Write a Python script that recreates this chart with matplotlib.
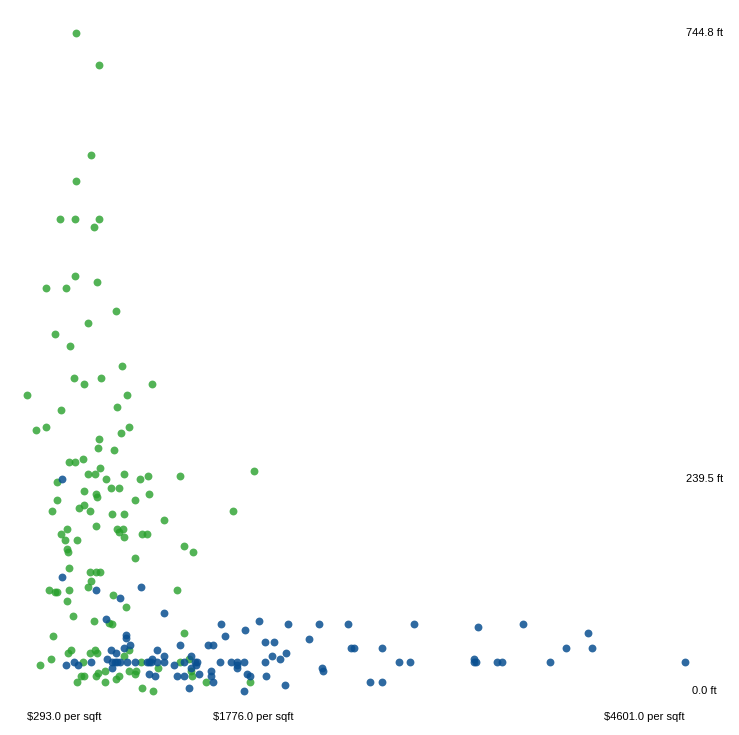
import matplotlib
matplotlib.use("Agg")
import matplotlib.pyplot as plt

# price per sqft ($) and elevation (ft) of homes
sf_price = [614, 763, 710, 614, 509, 607, 763, 732, 607, 417, 548, 751, 876, 693, 476,
            575, 915, 601, 778, 666, 1112, 293, 946, 514, 881, 352, 417, 959, 907, 763,
            756, 861, 658, 566, 605, 769, 1778, 691, 736, 926, 1084, 1293, 488, 808, 1031,
            894, 841, 664, 743, 750, 1090, 998, 488, 1640, 455, 632, 664, 704, 848, 926,
            1188, 743, 553, 881, 920, 894, 514, 1044, 1077, 540, 619, 926, 553, 560, 1319,
            1378, 998, 566, 704, 743, 769, 710, 691, 435, 474, 488, 566, 1274, 854, 553,
            941, 592, 732, 830, 848, 461, 1319, 579, 560, 736, 704, 752, 928, 959, 448,
            376, 658, 1038, 1293, 1356, 802, 756, 743, 894, 874, 959, 645, 664, 619, 802,
            1149, 1005, 998, 1372, 1044, 1116, 1365, 1464, 1752]
sf_elev = [744.8, 708.9, 607.0, 577.6, 534.6, 534.6, 534.6, 525.5, 470.1, 456.5, 456.5,
           463.3, 430.5, 416.9, 404.4, 390.8, 368.2, 354.6, 354.6, 347.8, 347.8, 335.4,
           335.4, 318.4, 321.8, 295.8, 299.2, 299.2, 292.4, 285.6, 275.4, 273.1, 262.9,
           259.5, 259.5, 252.8, 249.4, 246.0, 246.0, 246.0, 243.7, 243.7, 236.9, 240.3,
           240.3, 230.1, 230.1, 226.7, 223.3, 219.9, 223.3, 216.5, 216.5, 204.1, 204.1,
           207.5, 210.9, 204.1, 200.7, 200.7, 193.9, 187.1, 183.7, 183.7, 183.7, 180.3,
           178.0, 178.0, 178.0, 171.3, 171.3, 174.7, 161.1, 157.7, 164.5, 157.7, 150.9,
           138.9, 135.0, 135.0, 135.0, 124.8, 118.1, 114.7, 112.4, 112.4, 114.7, 114.7,
           109.0, 102.2, 95.4, 85.2, 79.6, 77.3, 76.2, 62.6, 66.0, 46.7, 43.4, 46.7, 43.4,
           43.4, 40.0, 46.7, 36.6, 29.8, 33.2, 33.2, 33.2, 36.6, 23.0, 20.7, 17.3, 17.3,
           13.9, 23.0, 17.3, 17.3, 10.5, 10.5, 26.4, 23.0, 19.6, 17.3, 3.7, 0.3, 23.0,
           10.5, 10.5]

ny_price = [520, 520, 743, 1038, 900, 1188, 810, 1562, 1811, 2001, 2204, 2394, 1719, 1588,
            2138, 940, 940, 1850, 1909, 1477, 1509, 1293, 966, 2413, 2433, 926, 841, 874,
            1143, 1987, 1896, 1948, 1365, 1188, 547, 599, 710, 625, 817, 848, 867, 881, 900,
            946, 998, 1077, 1090, 1103, 1110, 1143, 1188, 1254, 1319, 1391, 1405, 1398,
            1555, 1627, 1667, 1667, 1667, 1712, 1850, 848, 1365, 1496, 1090, 1129, 1274,
            1319, 1418, 1496, 1732, 1752, 1857, 2223, 2230, 1352, 1509, 1712, 1981, 2538,
            2616, 2826, 3245, 3540, 3966, 2616, 3821, 3992, 2728, 2800, 3219, 3219, 3232,
            3370, 3404, 3717, 4601]
ny_elev = [240.3, 128.7, 114.7, 118.1, 105.6, 88.6, 81.8, 76.2, 79.6, 76.2, 76.2, 76.2,
           69.4, 62.6, 59.2, 63.7, 60.3, 55.8, 55.8, 52.4, 52.4, 52.4, 52.4, 49.0, 49.0,
           49.0, 46.7, 43.4, 46.7, 43.4, 40.0, 36.6, 40.0, 40.0, 29.8, 33.2, 33.2, 29.8,
           36.6, 33.2, 33.2, 33.2, 33.2, 33.2, 33.2, 33.2, 33.2, 33.2, 36.6, 33.2, 33.2,
           29.8, 33.2, 33.2, 33.2, 29.8, 33.2, 33.2, 33.2, 29.8, 26.4, 33.2, 33.2, 26.4,
           26.4, 23.0, 19.6, 17.3, 17.3, 17.3, 19.6, 17.3, 19.6, 17.3, 17.3, 26.4, 23.0,
           3.7, 10.5, 0.0, 7.1, 10.5, 10.5, 76.2, 72.8, 76.2, 66.0, 49.0, 49.0, 49.0, 33.2,
           33.2, 36.6, 33.2, 33.2, 33.2, 33.2, 33.2, 33.2]

price_ticks = [293.0, 1776.0, 4601.0]
elev_ticks = [744.8, 239.5, 0.0]

fig = plt.figure(figsize=(7.39, 7.35), dpi=100)
fig.patch.set_facecolor("white")
ax = fig.add_axes([27 / 739, 44 / 735, 657.7 / 739, 658 / 735])
ax.set_xlim(min(price_ticks), max(price_ticks))
ax.set_ylim(min(elev_ticks), max(elev_ticks))
ax.axis("off")

ax.scatter(sf_price, sf_elev, s=32, color="#28a02c", alpha=0.8,
           linewidths=0, clip_on=False)
ax.scatter(ny_price, ny_elev, s=32, color="#0a5091", alpha=0.85,
           linewidths=0, clip_on=False)

# x labels: first left-aligned, middle centered, last right-aligned
for val, ha in zip(price_ticks, ["left", "center", "right"]):
    ax.annotate(f"${val:.1f} per sqft", xy=(val, 0), xycoords=("data", "axes fraction"),
                xytext=(0, -26), textcoords="offset pixels",
                ha=ha, va="center", fontsize=8, family="Liberation Sans")

# y labels sit at the right, centered around a fixed column
for val in elev_ticks:
    ax.annotate(f"{val:.1f} ft", xy=(1, val), xycoords=("axes fraction", "data"),
                xytext=(19.5, 0), textcoords="offset pixels",
                ha="center", va="center", fontsize=8, family="Liberation Sans")

fig.savefig("out.png", dpi=100)
